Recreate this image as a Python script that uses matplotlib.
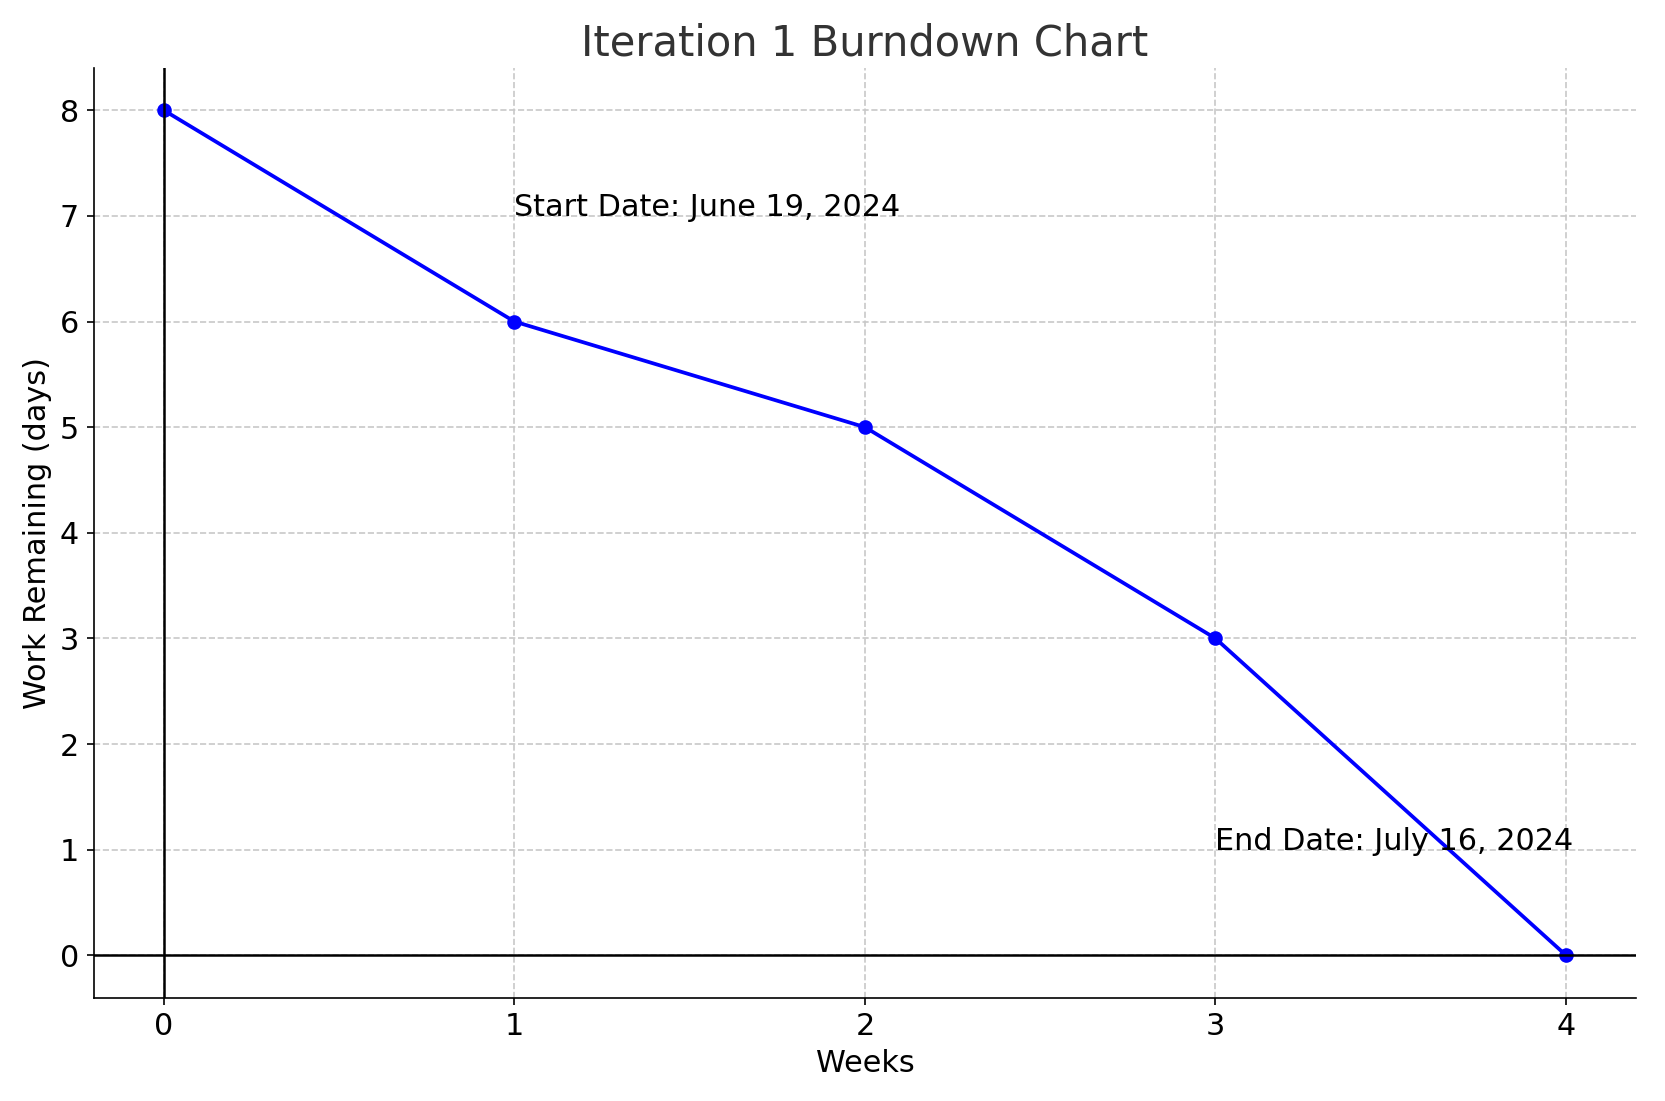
import matplotlib.pyplot as plt

weeks = [0, 1, 2, 3, 4]
work_remaining = [8, 6, 5, 3, 0]
start_label = "Start Date: June 19, 2024"
end_label = "End Date: July 16, 2024"


def main():
    fig, ax = plt.subplots(figsize=(11.1, 7.34), dpi=150)

    ax.plot(weeks, work_remaining, marker="o", color="blue", linewidth=1.8, markersize=6)
    ax.axhline(0, color="black", linewidth=1.2)
    ax.axvline(0, color="black", linewidth=1.2)

    ax.text(weeks[1], 7, start_label, fontsize=14.5)
    ax.text(weeks[3], 1, end_label, fontsize=14.5)

    ax.set_title("Iteration 1 Burndown Chart", fontsize=20, color="#333333")
    ax.set_xlabel("Weeks", fontsize=14.5)
    ax.set_ylabel("Work Remaining (days)", fontsize=14.5)
    ax.set_xticks(weeks)
    ax.set_yticks(range(0, 9))
    ax.tick_params(labelsize=14.5)
    ax.set_xlim(-0.2, 4.2)
    ax.set_ylim(-0.4, 8.4)
    ax.grid(True, linestyle="--", color="#c8c8c8", linewidth=0.8)
    ax.spines["top"].set_visible(False)
    ax.spines["right"].set_visible(False)

    fig.tight_layout()
    fig.savefig("out.png")


if __name__ == "__main__":
    main()
